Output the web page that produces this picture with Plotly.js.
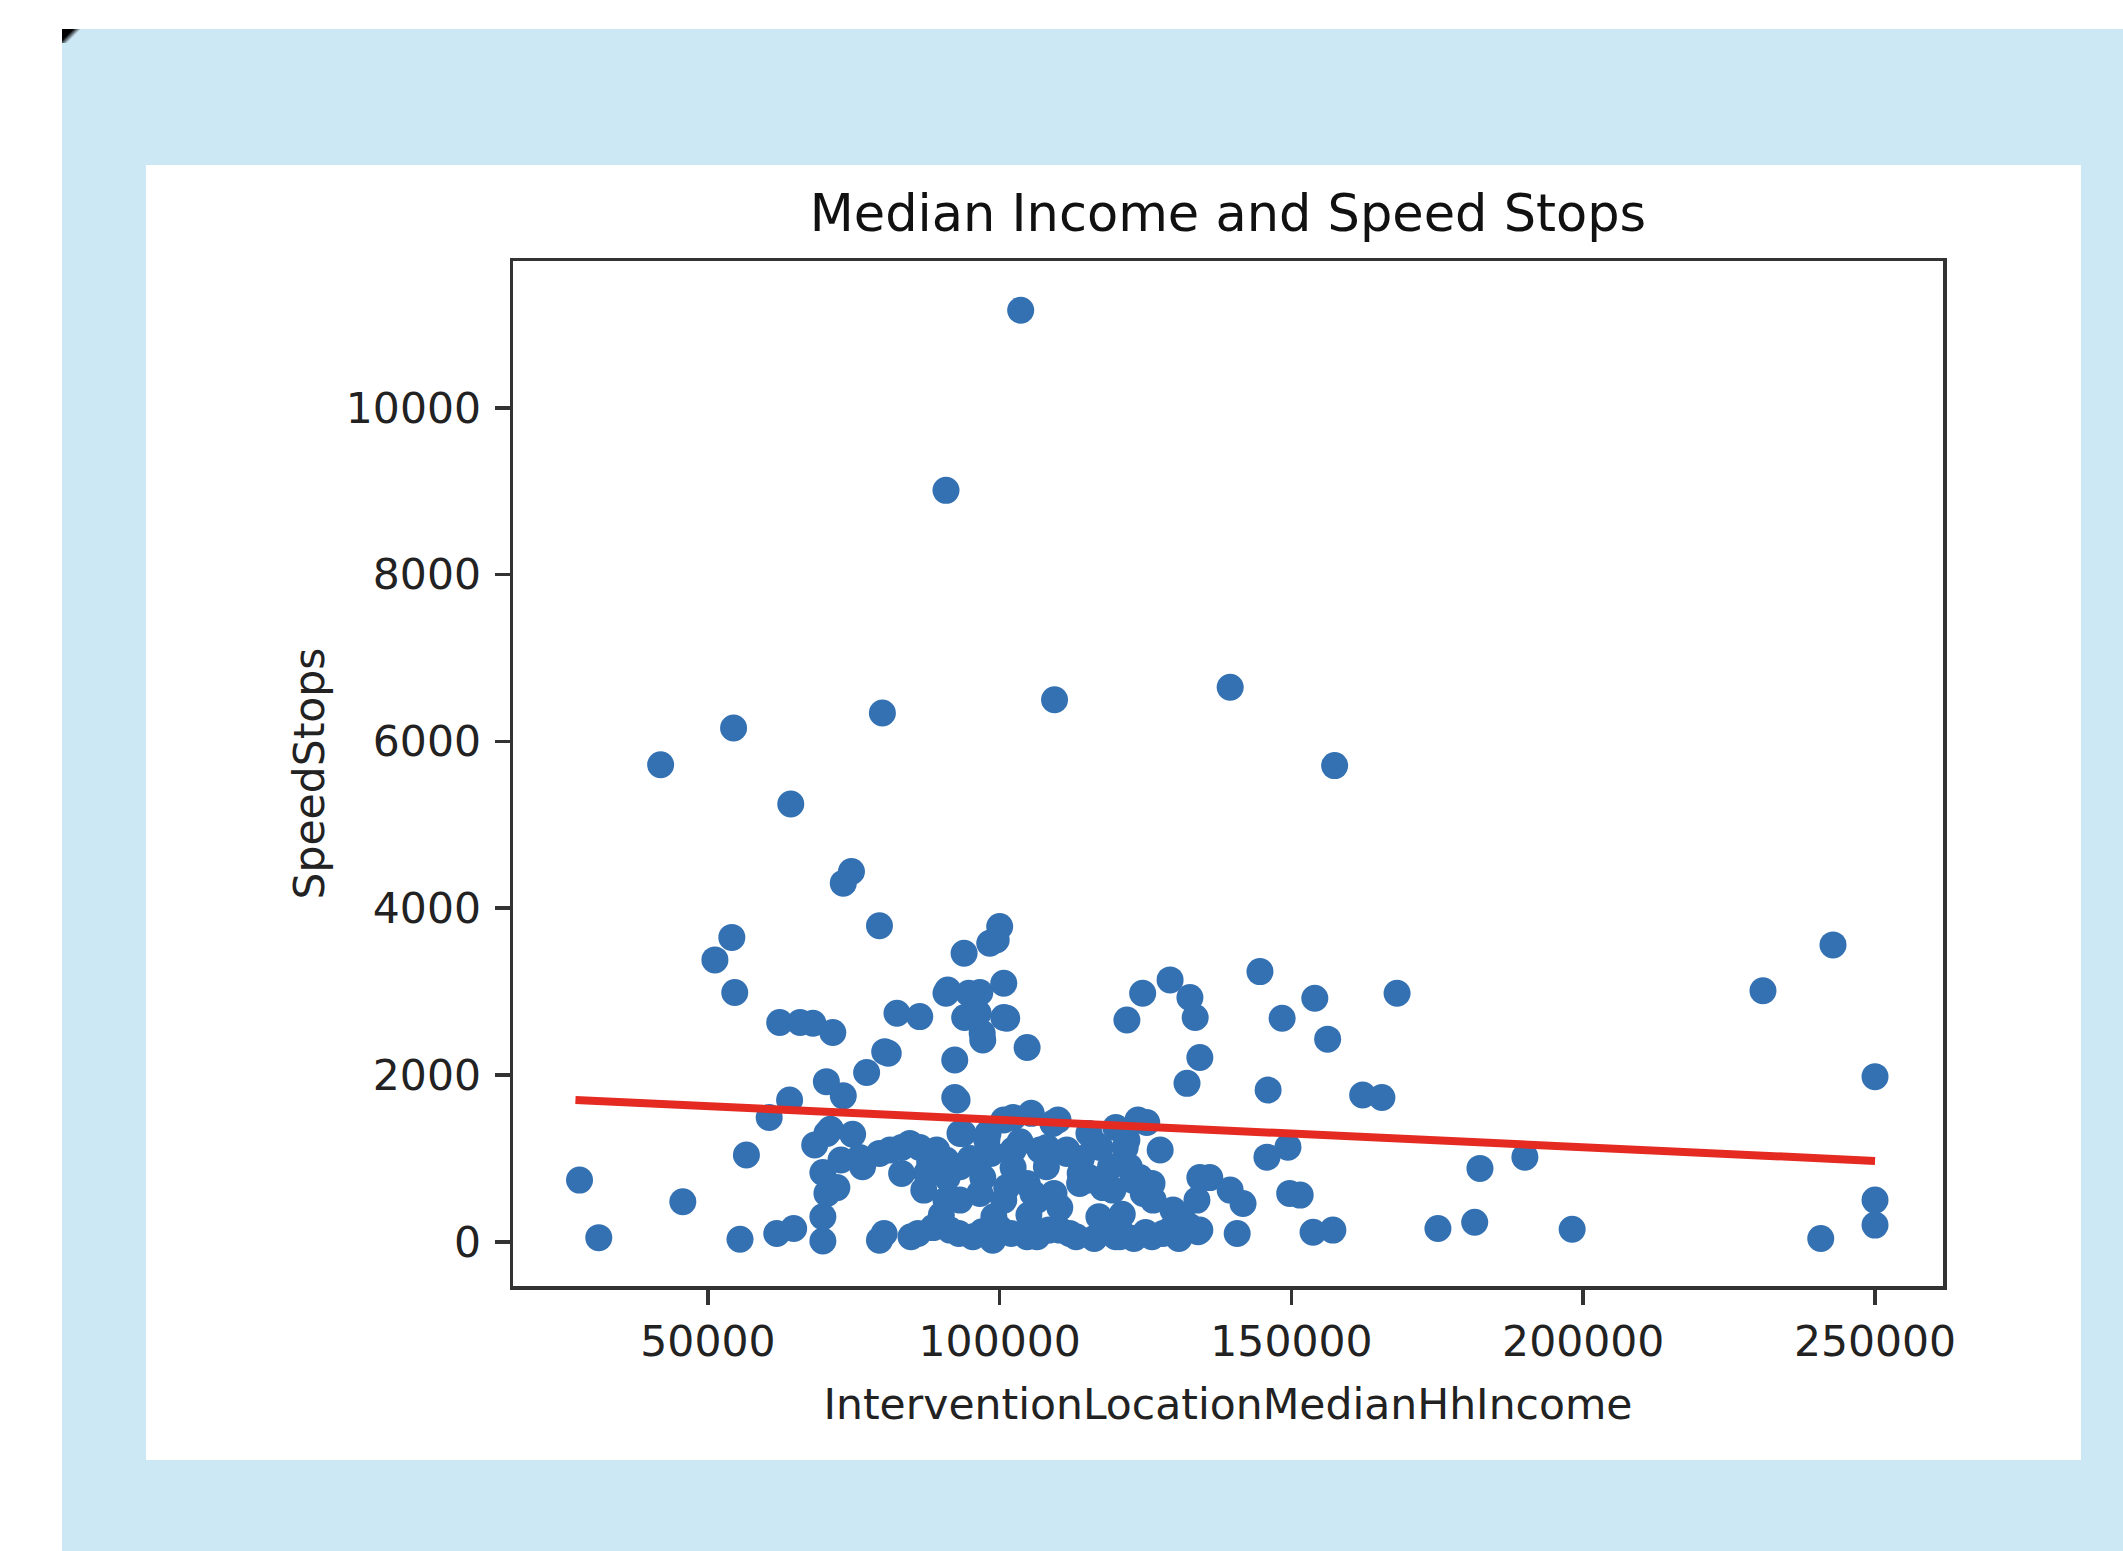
<!DOCTYPE html>
<html>
<head>
<meta charset="utf-8">
<script src="https://cdn.plot.ly/plotly-3.0.1.min.js"></script>
<style>
  html, body { margin: 0; padding: 0; background: #ffffff; width: 2123px; height: 1551px; overflow: hidden; }
  #chart { position: absolute; left: 62px; top: 29px; width: 2061px; height: 1522px; }
  #corner { position: absolute; left: 62px; top: 29px; width: 18px; height: 14px;
            background: linear-gradient(135deg, #000 0%, #000 35%, rgba(0,0,0,0) 60%); }
</style>
</head>
<body>
<div id="chart"></div>
<div id="corner"></div>
<script>
// ---- Data ----
const incomeValues = [
  103600, 90800, 139500, 109400, 79900, 54400, 41900, 157400, 64200, 74600,
  73200, 79400, 230800, 242800, 250000, 250000, 250000, 240700, 198100,
  54100, 51200, 54600, 62300, 65800, 68000, 71400, 77200, 80300, 70300,
  73200, 64000, 60500, 56600, 28000, 45700, 31300, 55500, 61800, 64700,
  69700, 69700, 70400, 69700, 68300, 70400, 74800, 76000, 72800, 72100,
  79400, 79400,
  83200, 86300, 89200, 90800, 82400, 86300, 83200, 87000, 90800, 80200,
  84800, 88600, 95400, 100000, 104700, 108400, 113100, 116200, 119900, 123000,
  126100, 130700, 92300, 92300, 93200, 93200, 93200, 93900, 99400, 100000,
  90800, 94700, 96300, 100700, 100700, 97000, 104700, 100700, 105400, 110000,
  115300, 111500, 106900, 102300, 98500, 104700, 100700, 109300, 113800, 117700,
  122200, 124600, 121500, 123700, 119900, 116200,
  98300, 91100, 96600, 94000, 101200, 97100, 80900, 92700, 102300, 109100,
  125200, 84600, 81200, 93700, 97800, 108100, 111500, 117200, 121800, 87500,
  91000, 97100, 102300, 113700, 124000, 105700, 134300, 133800, 96600, 101200,
  106400, 110300, 115000, 119400, 122800, 126300, 129700, 91500, 98800, 110300,
  129200, 132600, 106400, 120600,
  121800, 124500, 129200, 132600, 133500, 134300, 132100, 144600, 154000, 148400,
  168100, 156200, 146000, 162200, 165500, 145800, 149400, 149700, 151500, 153700,
  157100, 175100, 181400, 182300, 190000, 136000, 139500, 141700, 140700, 134300,
  131400, 126100, 115300,
  86000, 93000, 97000, 102000, 107000, 112000, 118000, 121000, 125000, 128000,
  134000, 90000, 99000, 105000, 117000, 121000, 131000, 76500, 71000, 88000,
  95000, 103500, 114000, 119000, 127500, 98000, 108000
];
const speedStopValues = [
  11170, 9010, 6650, 6500, 6340, 6160, 5720, 5710, 5250, 4440,
  4300, 3790, 3010, 3560, 1980, 500, 200, 40, 150,
  3650, 3380, 2990, 2630, 2630, 2620, 2510, 2030, 2280, 1920,
  1750, 1700, 1490, 1040, 740, 480, 50, 30, 100, 160,
  10, 300, 580, 830, 1160, 1300, 1290, 1010, 980, 650,
  1060, 20,
  1130, 1130, 1100, 980, 2740, 2700, 820, 620, 500, 100,
  60, 170, 60, 160, 60, 140, 60, 40, 60, 40,
  60, 40, 2180, 1730, 1300, 900, 500, 3460, 3620, 3780,
  2980, 2980, 2740, 3100, 2690, 2500, 2330, 1460, 1540, 1460,
  1300, 1060, 1100, 1100, 1060, 700, 500, 580, 820, 650,
  900, 580, 1130, 1460, 1370, 1180,
  3580, 3020, 2990, 2690, 2680, 2420, 2260, 1700, 1490, 1420,
  1430, 1180, 1100, 1300, 1220, 1130, 1100, 1130, 1220, 820,
  770, 770, 890, 700, 770, 580, 770, 500, 580, 650,
  500, 410, 740, 620, 740, 500, 380, 140, 20, 140,
  140, 180, 60, 60,
  2660, 2980, 3140, 2930, 2690, 2210, 1900, 3240, 2920, 2680,
  2980, 2430, 1820, 1760, 1730, 1015, 1135, 580, 560, 115,
  140, 160, 235, 880, 1015, 770, 620, 460, 100, 140,
  260, 700, 770,
  100, 100, 120, 100, 110, 100, 120, 100, 110, 100,
  120, 320, 300, 320, 300, 330, 300, 900, 1350, 950,
  1000, 1200, 1000, 900, 1100, 1300, 900
];
const trendIncome = [27300, 250000];
const trendStops = [1700, 970];

const chartTitle = 'Median Income and Speed Stops';
const xAxisLabel = 'InterventionLocationMedianHhIncome';
const yAxisLabel = 'SpeedStops';
const xTickValues = [50000, 100000, 150000, 200000, 250000];
const xTickLabels = ['50000', '100000', '150000', '200000', '250000'];
const yTickValues = [0, 2000, 4000, 6000, 8000, 10000];
const yTickLabels = ['0', '2000', '4000', '6000', '8000', '10000'];

// ---- Traces ----
const scatterTrace = {
  type: 'scatter',
  mode: 'markers',
  x: incomeValues,
  y: speedStopValues,
  marker: { color: '#3471b2', size: 27, line: { width: 0 } },
  showlegend: false,
  hoverinfo: 'x+y'
};
const trendTrace = {
  type: 'scatter',
  mode: 'lines',
  x: trendIncome,
  y: trendStops,
  line: { color: '#e52a22', width: 8 },
  showlegend: false
};

const fontFamily = '"DejaVu Sans", Verdana, sans-serif';
const axisCommon = {
  showgrid: false,
  zeroline: false,
  showline: true,
  mirror: true,
  linecolor: '#333333',
  linewidth: 3.5,
  ticks: 'outside',
  ticklen: 15,
  tickwidth: 3.5,
  tickcolor: '#333333',
  tickfont: { family: fontFamily, size: 42.5, color: '#222222' }
};

const layout = {
  width: 2061,
  height: 1522,
  paper_bgcolor: '#cde8f5',
  plot_bgcolor: '#ffffff',
  margin: { l: 451, r: 180, t: 232, b: 265, pad: 0 },
  title: {
    text: chartTitle,
    font: { family: fontFamily, size: 51, color: '#111111' },
    x: 0.5, xref: 'paper', xanchor: 'center',
    y: 0.879, yref: 'container', yanchor: 'middle'
  },
  xaxis: Object.assign({}, axisCommon, {
    range: [16600, 261650],
    tickmode: 'array',
    tickvals: xTickValues,
    ticktext: xTickLabels,
    ticklabelstandoff: 0,
    title: { text: xAxisLabel, font: { family: fontFamily, size: 42.5, color: '#222222' }, standoff: 25 }
  }),
  yaxis: Object.assign({}, axisCommon, {
    range: [-530, 11760],
    tickmode: 'array',
    tickvals: yTickValues,
    ticktext: yTickLabels,
    ticklabelstandoff: 5,
    title: { text: yAxisLabel, font: { family: fontFamily, size: 42.5, color: '#222222' }, standoff: 9 }
  }),
  shapes: [
    { type: 'rect', xref: 'paper', yref: 'paper', layer: 'below',
      x0: -0.2566, x1: 1.0965, y0: -0.1698, y1: 1.0937,
      fillcolor: '#ffffff', line: { width: 0 } }
  ]
};

Plotly.newPlot('chart', [scatterTrace, trendTrace], layout, { displayModeBar: false, staticPlot: true });
</script>
</body>
</html>
